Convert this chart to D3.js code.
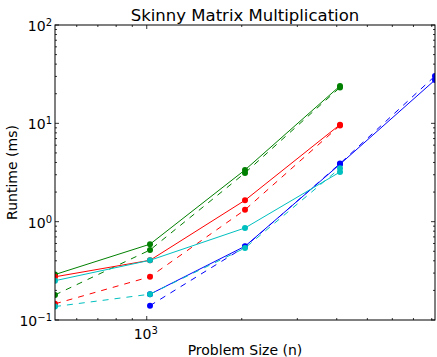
<!DOCTYPE html>
<html>
<head>
<meta charset="utf-8">
<script src="https://d3js.org/d3.v7.min.js"></script>
<style>
body { margin: 0; background: #fff; }
svg { display: block; font-family: "DejaVu Sans", sans-serif; }
</style>
</head>
<body>
<script>
// problem sizes (x) and runtimes in ms for each run
var sizes = [512, 1024, 2048, 4096, 8192];

var greenSolid  = [0.29, 0.59, 3.36, 24.0, null];
var greenDashed = [0.18, 0.515, 3.13, 23.2, null];
var redSolid    = [0.275, 0.405, 1.65, 9.7, null];
var redDashed   = [0.146, 0.275, 1.32, 9.5, null];
var cyanSolid   = [0.251, 0.405, 0.863, 3.2, null];
var cyanDashed  = [0.137, 0.183, 0.54, 3.5, null];
var blueSolid   = [null, 0.183, 0.562, 3.84, 27.6];
var blueDashed  = [null, 0.14, 0.555, 3.9, 30.3];

var yMajor = [-1, 0, 1, 2];
var xMajor = [3];

var series = [
    {values: blueSolid,   color: '#0000ff', dash: null},
    {values: blueDashed,  color: '#0000ff', dash: '6,6'},
    {values: greenSolid,  color: '#008000', dash: null},
    {values: greenDashed, color: '#008000', dash: '6,6'},
    {values: redSolid,    color: '#ff0000', dash: null},
    {values: redDashed,   color: '#ff0000', dash: '6,6'},
    {values: cyanSolid,   color: '#00bfbf', dash: null},
    {values: cyanDashed,  color: '#00bfbf', dash: '6,6'}
];

var W = 437, H = 357;
var margin = {top: 25, right: 2, bottom: 37, left: 55};
var width = W - margin.left - margin.right;
var height = H - margin.top - margin.bottom;

var x = d3.scaleLog().domain([512, 8192]).range([0, width]);
var y = d3.scaleLog().domain([0.1, 100]).range([height, 0]);

var svg = d3.select('body').append('svg')
        .attr('width', W)
        .attr('height', H);

svg.append('defs').append('clipPath')
    .attr('id', 'clip')
    .append('rect')
    .attr('width', width)
    .attr('height', height);

var g = svg.append('g')
        .attr('transform', 'translate(' + margin.left + ',' + margin.top + ')');

// minor ticks
var xMinor = [];
[100, 1000].forEach(function(base) {
    for (var k = 1; k < 10; k++) {
        var v = base * k;
        if (v > 512 && v < 8192 && v !== 1000) xMinor.push(v);
    }
});
var yMinor = [];
[0.1, 1, 10].forEach(function(base) {
    for (var k = 2; k < 10; k++) yMinor.push(base * k);
});

var ticks = g.append('g').attr('stroke', '#000').attr('stroke-width', 0.8);

xMinor.forEach(function(v) {
    ticks.append('line').attr('x1', x(v)).attr('x2', x(v)).attr('y1', height).attr('y2', height - 2);
    ticks.append('line').attr('x1', x(v)).attr('x2', x(v)).attr('y1', 0).attr('y2', 2);
});
xMajor.forEach(function(e) {
    var v = Math.pow(10, e);
    ticks.append('line').attr('x1', x(v)).attr('x2', x(v)).attr('y1', height).attr('y2', height - 4);
    ticks.append('line').attr('x1', x(v)).attr('x2', x(v)).attr('y1', 0).attr('y2', 4);
});
yMinor.forEach(function(v) {
    ticks.append('line').attr('y1', y(v)).attr('y2', y(v)).attr('x1', 0).attr('x2', 2);
    ticks.append('line').attr('y1', y(v)).attr('y2', y(v)).attr('x1', width).attr('x2', width - 2);
});
yMajor.forEach(function(e) {
    var v = Math.pow(10, e);
    ticks.append('line').attr('y1', y(v)).attr('y2', y(v)).attr('x1', 0).attr('x2', 4);
    ticks.append('line').attr('y1', y(v)).attr('y2', y(v)).attr('x1', width).attr('x2', width - 4);
});

// tick labels
function powLabel(sel, e) {
    sel.append('tspan').text('10');
    sel.append('tspan').attr('dy', '-0.5em').attr('font-size', '10px').text(e < 0 ? '\u2212' + (-e) : e);
}

yMajor.forEach(function(e) {
    var t = g.append('text')
        .attr('x', -3)
        .attr('y', y(Math.pow(10, e)) + 6)
        .attr('text-anchor', 'end')
        .attr('font-size', '14px')
        .attr('fill', '#000');
    powLabel(t, e);
});
xMajor.forEach(function(e) {
    var t = g.append('text')
        .attr('x', x(Math.pow(10, e)) - 1)
        .attr('y', height + 19)
        .attr('text-anchor', 'middle')
        .attr('font-size', '14px')
        .attr('fill', '#000');
    powLabel(t, e);
});

// lines and markers
var line = d3.line()
        .defined(function(d) { return d[1] !== null; })
        .x(function(d) { return x(d[0]); })
        .y(function(d) { return y(d[1]); });

var plot = g.append('g').attr('clip-path', 'url(#clip)');

series.forEach(function(s) {
    var pts = sizes.map(function(n, i) { return [n, s.values[i]]; });
    plot.append('path')
        .attr('d', line(pts))
        .attr('fill', 'none')
        .attr('stroke', s.color)
        .attr('stroke-width', 1)
        .attr('stroke-dasharray', s.dash);
    plot.selectAll(null)
        .data(pts.filter(function(d) { return d[1] !== null; }))
        .enter().append('circle')
        .attr('cx', function(d) { return x(d[0]); })
        .attr('cy', function(d) { return y(d[1]); })
        .attr('r', 3)
        .attr('fill', s.color);
});

// frame
g.append('rect')
    .attr('width', width)
    .attr('height', height)
    .attr('fill', 'none')
    .attr('stroke', '#000')
    .attr('stroke-width', 1);

// titles
svg.append('text')
    .attr('x', margin.left + width / 2)
    .attr('y', 21)
    .attr('text-anchor', 'middle')
    .attr('font-size', '16.5px')
    .text('Skinny Matrix Multiplication');

svg.append('text')
    .attr('x', margin.left + width / 2)
    .attr('y', 355)
    .attr('text-anchor', 'middle')
    .attr('font-size', '14px')
    .text('Problem Size (n)');

svg.append('text')
    .attr('transform', 'translate(17,' + (margin.top + height / 2) + ') rotate(-90)')
    .attr('text-anchor', 'middle')
    .attr('font-size', '14px')
    .text('Runtime (ms)');
</script>
</body>
</html>
